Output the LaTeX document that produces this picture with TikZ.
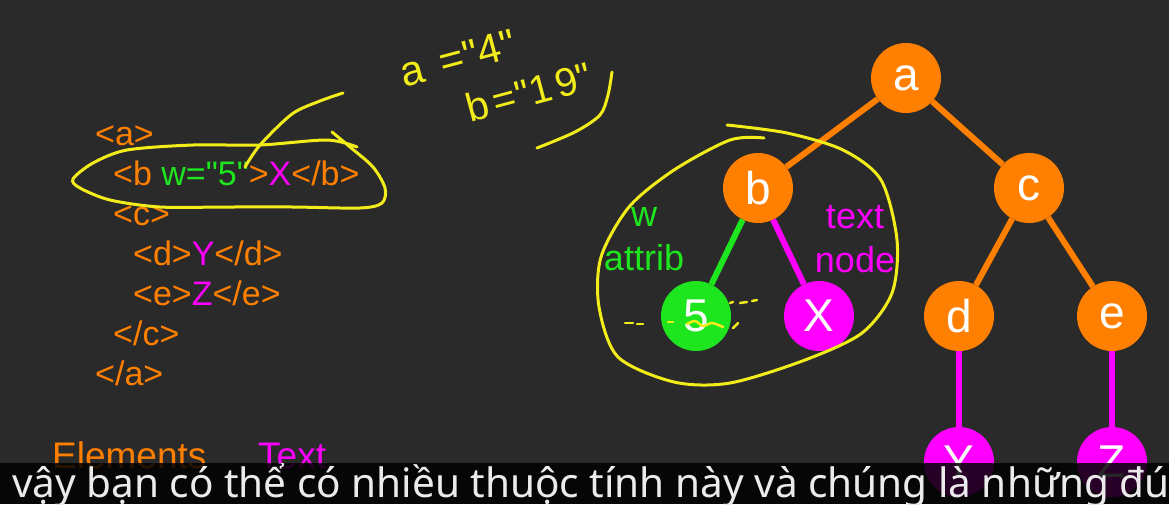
\documentclass[tikz,border=0pt]{standalone}
\usepackage{fontspec}
\setmainfont{Liberation Sans}
\newfontfamily\subfont{Noto Sans}
\newfontfamily\penfont[LetterSpace=40]{Liberation Sans}
\newfontfamily\penfontb[LetterSpace=12]{Liberation Sans}
\usepackage{xcolor}
\usetikzlibrary{positioning}

\definecolor{slidebg}{HTML}{2A2A2A}
\definecolor{elemc}{HTML}{FF8000}
\definecolor{attrc}{HTML}{1EE61E}
\definecolor{textc}{HTML}{FF00FF}
\definecolor{penc}{HTML}{F2EC1A}
\newcommand{\qq}{\textquotedbl}

\begin{document}
\begin{tikzpicture}[x=1pt, y=-1pt,
    xmlline/.style={anchor=base west, inner sep=0, text=elemc, font=\fontsize{34}{40}\selectfont},
    legend/.style={anchor=base west, inner sep=0, font=\fontsize{37}{40}\selectfont},
    treenode/.style={circle, minimum size=70, inner sep=0, text=white, font=\fontsize{46}{46}\selectfont},
    elemnode/.style={treenode, fill=elemc},
    attrnode/.style={treenode, fill=attrc},
    textnode/.style={treenode, fill=textc},
    sidelabel/.style={align=center, inner sep=0, font=\fontsize{36}{44}\selectfont},
    treeedge/.style={line width=6},
    scrawl/.style={penc, line width=3, line cap=round, line join=round},
    scrawltext/.style={text=penc, inner sep=0, rotate=15}]
    \useasboundingbox (0,0) rectangle (1169,504);
    \fill[slidebg] (0,0) rectangle (1169,504);

    % XML source
    \node[xmlline] (x1) at (95,145) {<a>};
    \node[xmlline] (x2) at (113,185) {<b \textcolor{attrc}{w=\qq5\qq}>\textcolor{textc}{X}</b>};
    \node[xmlline] (x3) at (113,225) {<c>};
    \node[xmlline] (x4) at (133,265) {<d>\textcolor{textc}{Y}</d>};
    \node[xmlline] (x5) at (133,305) {<e>\textcolor{textc}{Z}</e>};
    \node[xmlline] (x6) at (113,345) {</c>};
    \node[xmlline] (x7) at (95,385) {</a>};

    % legend
    \node[legend, text=elemc] (lelem) at (52,468) {Elements};
    \node[legend, text=textc] (ltext) at (258,468) {Text};

    % tree
    \node[elemnode] (a) at (906,78) {a};
    \node[elemnode] (b) at (758,188) {b};
    \node[elemnode] (c) at (1029,188) {c};
    \node[attrnode] (w) at (696,316) {5};
    \node[textnode] (x) at (819,316) {X};
    \node[elemnode] (d) at (959,316) {d};
    \node[elemnode] (e) at (1112,316) {e};
    \node[textnode] (y) at (959,462) {Y};
    \node[textnode] (z) at (1112,462) {Z};

    \draw[treeedge, elemc] (a) -- (b);
    \draw[treeedge, elemc] (a) -- (c);
    \draw[treeedge, attrc] (b) -- (w);
    \draw[treeedge, textc] (b) -- (x);
    \draw[treeedge, elemc] (c) -- (d);
    \draw[treeedge, elemc] (c) -- (e);
    \draw[treeedge, textc] (d) -- (y);
    \draw[treeedge, textc] (e) -- (z);

    % labels beside b
    \node[sidelabel, text=attrc] (lattr) at (644,239) {w\\attrib};
    \node[sidelabel, text=textc] (ltnode) at (855,239) {text\\node};

    % pen notes
    \draw[scrawl] plot[smooth] coordinates {(357,147) (327,140) (260,145) (193,145) (127,150) (93,163) (73,179) (80,188) (110,200) (160,207) (227,207) (293,207) (360,208) (382,203) (385,188) (373,167) (350,147) (332,132)};
    \draw[scrawl] plot[smooth] coordinates {(245,167) (260,145) (292,114) (320,101) (343,93)};
    \node[scrawltext, font=\penfont\fontsize{42}{42}\selectfont] (na) at (458,58) {a=\qq4\qq};
    \node[scrawltext, font=\penfontb\fontsize{40}{40}\selectfont] (nb) at (529,92) {b=\qq19\qq};
    \draw[scrawl] plot[smooth] coordinates {(612,72) (608,95) (600,115) (575,132) (537,148)};
    \draw[scrawl] plot[smooth] coordinates {(764,138) (730,140) (674,170) (629,207) (601,257) (599,307) (618,357) (674,382) (730,383) (805,360) (862,333) (892,293) (897,240) (881,180) (843,150) (787,133) (727,125)};
    \draw[scrawl, line width=2.5] (625,323) -- (633,323) (637,324) -- (643,324) (668,322) -- (673,322);
    \draw[scrawl, line width=2.5] plot[smooth] coordinates {(687,324) (695,321) (703,326) (712,323) (723,327)};
    \draw[scrawl, line width=2.5] (730,303) -- (733,302) (740,303) -- (747,302) (752,301) -- (757,300) (738,323) -- (733,328);

    % subtitle
    \begin{scope}
        \clip (0,463) rectangle (1169,504);
        \fill[black, opacity=0.85] (0,463) rectangle (1169,504);
        \node[anchor=base west, inner sep=0, text=white!92!black, font=\subfont\fontsize{40.5}{41}\selectfont] (sub) at (12,497) {vậy bạn có thể có nhiều thuộc tính này và chúng là những đú};
    \end{scope}
\end{tikzpicture}
\end{document}
